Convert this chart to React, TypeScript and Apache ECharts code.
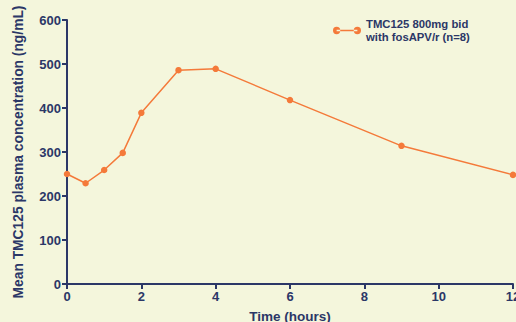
import React, { useEffect, useRef } from "react";
import * as echarts from "echarts";

const times = [0, 0.5, 1, 1.5, 2, 3, 4, 6, 9, 12];
const concentrations = [250, 229, 259, 298, 389, 486, 489, 418, 314, 248];
const seriesName = "TMC125 800mg bid\nwith fosAPV/r (n=8)";
const xTicks = [0, 2, 4, 6, 8, 10, 12];
const yTicks = [0, 100, 200, 300, 400, 500, 600];

const NAVY = "#2b3767";
const ORANGE = "#f47a3a";
const BG = "#f4f6dc";
const FONT = "Liberation Sans, Arial, sans-serif";

export default function App() {
  const ref = useRef<HTMLDivElement>(null);
  useEffect(() => {
    if (!ref.current) return;
    const chart = echarts.init(ref.current, null, { renderer: "svg" });
    const data = times.map((t, i) => [t, concentrations[i]]);
    chart.setOption({
      animation: false,
      backgroundColor: BG,
      textStyle: { fontFamily: FONT },
      grid: { left: 67, right: 3, top: 20, bottom: 38, outerBoundsMode: "none", containLabel: false },
      legend: {
        show: true,
        left: 328,
        top: 13,
        itemWidth: 28,
        itemHeight: 8,
        itemGap: 6,
        icon: "path://M0,5a3.5,3.5 0 1,0 7,0a3.5,3.5 0 1,0 -7,0zM20,5a3.5,3.5 0 1,0 7,0a3.5,3.5 0 1,0 -7,0zM3.5,4.2h20v1.6h-20z",
        textStyle: {
          color: NAVY,
          fontSize: 11.3,
          fontWeight: "bold",
          lineHeight: 12.5,
          fontFamily: FONT,
        },
        data: [{ name: seriesName, itemStyle: { color: ORANGE } }],
      },
      xAxis: {
        type: "value",
        min: xTicks[0],
        max: xTicks[xTicks.length - 1],
        interval: 2,
        name: "Time (hours)",
        nameLocation: "middle",
        nameGap: 25,
        nameTextStyle: { color: NAVY, fontSize: 13.5, fontWeight: "bold", fontFamily: FONT },
        axisLine: { show: true, lineStyle: { color: NAVY, width: 2 } },
        axisTick: { show: true, length: 5, lineStyle: { color: NAVY, width: 2 } },
        axisLabel: { color: NAVY, fontSize: 13, fontWeight: "bold", margin: 6, fontFamily: FONT },
        splitLine: { show: false },
      },
      yAxis: {
        type: "value",
        min: yTicks[0],
        max: yTicks[yTicks.length - 1],
        interval: 100,
        name: "Mean TMC125 plasma concentration (ng/mL)",
        nameLocation: "middle",
        nameGap: 42,
        nameTextStyle: { color: NAVY, fontSize: 13.8, fontWeight: "bold", fontFamily: FONT },
        axisLine: { show: true, lineStyle: { color: NAVY, width: 2 } },
        axisTick: { show: true, length: 5, lineStyle: { color: NAVY, width: 2 } },
        axisLabel: { color: NAVY, fontSize: 13, fontWeight: "bold", margin: 6, fontFamily: FONT },
        splitLine: { show: false },
      },
      series: [
        {
          name: seriesName,
          type: "line",
          data,
          symbol: "circle",
          symbolSize: 6.5,
          lineStyle: { color: ORANGE, width: 1.5 },
          itemStyle: { color: ORANGE },
        },
      ],
    });
    return () => chart.dispose();
  }, []);
  return <div ref={ref} style={{ width: 516, height: 322, position: "absolute", left: 0, top: 0 }} />;
}
